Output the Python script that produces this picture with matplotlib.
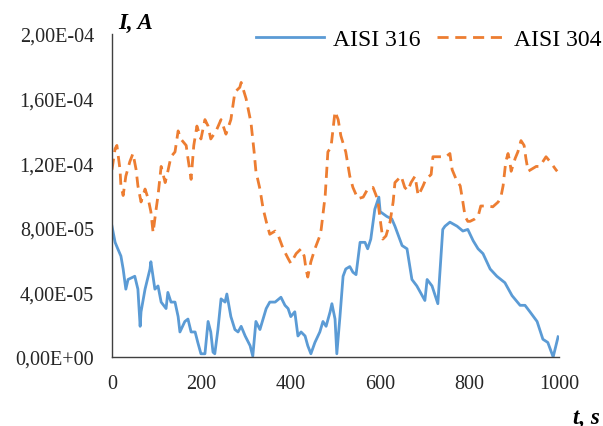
import matplotlib
matplotlib.use("Agg")
import matplotlib.pyplot as plt

# AISI 316 (units of 1e-5 A)
t316 = [0, 7, 13, 20, 25, 31, 36, 51, 58, 63, 65, 74, 85, 87, 96, 103, 110, 121, 125, 132,
        141, 148, 152, 163, 170, 177, 186, 192, 199, 208, 215, 221, 226, 230, 237, 244, 253,
        257, 266, 275, 282, 289, 298, 309, 315, 322, 331, 345, 353, 365, 378, 387, 394, 400,
        409, 416, 423, 432, 438, 445, 454, 465, 472, 479, 488, 492, 499, 503, 510, 517, 523,
        532, 539, 546, 555, 566, 572, 579, 588, 597, 600, 615, 626, 633, 649, 660, 671, 682,
        700, 705, 716, 729, 740, 745, 756, 772, 785, 796, 808, 819, 830, 846, 861, 879, 895,
        913, 924, 935, 951, 964, 975, 987, 998]
i316 = [8.1, 7.1, 6.7, 6.25, 5.45, 4.2, 4.8, 5.0, 4.2, 1.9, 2.8, 4.2, 5.45, 5.9, 4.2, 4.4, 3.4,
        3.0, 4.0, 3.4, 3.4, 2.5, 1.55, 2.2, 2.35, 1.55, 1.55, 0.9, 0.2, 0.2, 2.2, 1.55, 0.3,
        0.2, 1.7, 3.6, 3.4, 3.9, 2.5, 1.7, 1.55, 1.9, 1.3, 0.7, 0.05, 2.2, 1.7, 3.0, 3.4, 3.4,
        3.7, 3.2, 3.0, 2.5, 2.8, 1.3, 1.55, 1.3, 0.7, 0.2, 0.9, 1.55, 2.2, 1.9, 2.8, 3.3, 2.35,
        0.2, 2.5, 5.0, 5.45, 5.6, 5.25, 5.1, 7.1, 7.1, 6.7, 7.3, 9.15, 9.9, 9.0, 8.7, 8.55,
        8.1, 6.9, 6.7, 4.8, 4.4, 3.5, 4.8, 4.4, 3.3, 7.9, 8.1, 8.35, 8.1, 7.8, 7.9, 7.2, 6.7,
        6.4, 5.45, 5.0, 4.6, 3.8, 3.2, 3.2, 2.8, 2.2, 1.1, 0.9, 0.0, 1.25]

# AISI 304 (units of 1e-5 A)
t304 = [0, 7, 11, 18, 20, 25, 31, 40, 47, 54, 58, 65, 74, 81, 87, 92, 98, 103, 110, 119, 125,
        132, 141, 148, 154, 166, 170, 177, 183, 190, 199, 208, 215, 221, 233, 244, 255, 266,
        275, 286, 289, 300, 311, 318, 322, 331, 338, 345, 353, 365, 371, 383, 394, 400, 412,
        423, 430, 434, 438, 445, 454, 465, 468, 477, 483, 490, 499, 506, 512, 523, 532, 539,
        550, 562, 572, 584, 591, 595, 602, 606, 613, 622, 629, 633, 640, 647, 655, 662, 669,
        678, 685, 689, 696, 702, 714, 718, 725, 736, 747, 756, 761, 770, 779, 785, 790, 796,
        801, 812, 819, 825, 834, 841, 852, 864, 870, 875, 879, 881, 886, 890, 893, 902, 908,
        915, 922, 926, 931, 937, 949, 957, 971, 980, 993, 996]
i304 = [11.6, 12.9, 13.1, 11.6, 10.6, 10.0, 11.2, 12.1, 12.6, 11.6, 10.6, 9.6, 10.4, 9.8, 9.0,
        7.7, 9.0, 10.0, 11.8, 10.8, 11.5, 12.4, 12.7, 14.0, 13.5, 13.1, 12.3, 11.0, 13.1, 14.3,
        13.5, 14.7, 14.3, 13.5, 14.0, 14.7, 13.8, 14.7, 16.4, 16.7, 17.0, 16.0, 14.5, 12.7,
        11.5, 10.4, 9.2, 8.4, 7.6, 7.8, 7.6, 6.7, 6.1, 5.8, 6.4, 6.7, 6.25, 5.45, 4.95, 5.9,
        6.7, 7.5, 7.9, 10.0, 12.7, 13.0, 15.2, 14.7, 13.7, 12.7, 11.2, 10.5, 9.8, 9.9, 10.4,
        10.5, 10.0, 9.6, 8.1, 7.3, 7.5, 8.35, 9.6, 10.8, 11.0, 11.2, 10.5, 10.3, 10.8, 11.2,
        10.0, 10.2, 10.6, 11.0, 11.3, 12.4, 12.4, 12.4, 12.4, 12.6, 11.6, 11.0, 10.6, 9.6,
        8.7, 8.4, 8.4, 8.55, 8.7, 9.35, 9.35, 9.35, 9.3, 9.6, 9.9, 10.6, 11.6, 12.1, 12.6,
        12.1, 11.5, 12.3, 12.7, 13.4, 13.1, 12.3, 11.5, 11.6, 11.8, 11.8, 12.4, 12.1, 11.6,
        11.5]

yticks = [0, 4e-5, 8e-5, 1.2e-4, 1.6e-4, 2e-4]
ytick_labels = ["0,00E+00", "4,00E-05", "8,00E-05", "1,20E-04", "1,60E-04", "2,00E-04"]
xticks = [0, 200, 400, 600, 800, 1000]

plt.rcParams['font.family'] = ['Liberation Serif', 'DejaVu Serif']

fig = plt.figure(figsize=(6.03, 4.27), dpi=100)
ax = fig.add_axes([0.1857, 0.1616, 0.7413, 0.7564])

ax.plot(t316, [v * 1e-5 for v in i316], color='#5B9BD5', lw=2.0, label='AISI 316')
ax.plot(t304, [v * 1e-5 for v in i304], color='#ED7D31', lw=2.0, ls=(0, (4, 2.4)),
        label='AISI 304')

ax.set_xlim(0, 1000)
ax.set_ylim(0, 2e-4)
ax.set_xticks(xticks)
ax.set_xticklabels([str(x) for x in xticks], fontsize=14.5, color='#262626')
ax.set_yticks(yticks)
ax.set_yticklabels(ytick_labels, fontsize=14.5, color='#262626')
ax.tick_params(axis='y', length=0, pad=13)
ax.tick_params(axis='x', length=0, pad=12)
for s in ['top', 'right']:
    ax.spines[s].set_visible(False)
for s in ['left', 'bottom']:
    ax.spines[s].set_color('#404040')
    ax.spines[s].set_linewidth(1.0)

leg = ax.legend(loc='center right', ncol=2, frameon=False, fontsize=17,
                bbox_to_anchor=(601 / 603, 1 - 40 / 427), bbox_transform=fig.transFigure,
                handlelength=2.9, columnspacing=0.7, handletextpad=0.35,
                borderpad=0, borderaxespad=0)

fig.text(118 / 603, 1 - 23 / 427, 'I, A', fontsize=16.5, fontweight='bold', style='italic',
         ha='left', va='center')
fig.text(600 / 603, 1 - 418 / 427, 't, s', fontsize=16.5, fontweight='bold', style='italic',
         ha='right', va='center')

fig.savefig('out.png', dpi=100)
